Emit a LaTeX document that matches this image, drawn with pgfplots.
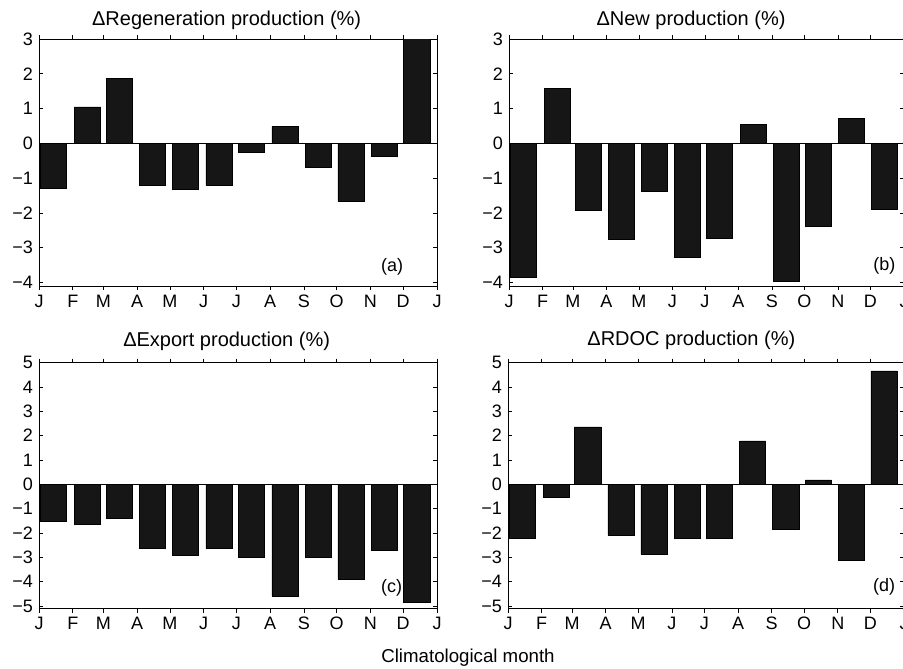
\documentclass[border=0pt]{standalone}
\usepackage{pgfplots}
\pgfplotsset{compat=1.18}
\usepackage{fontspec}
\setmainfont{Liberation Sans}
\definecolor{barfill}{RGB}{22,22,22}
\pgfplotstableread{
x a b c d
13.0 -1.28 -3.85 -1.51 -2.23
44.5 1.05 1.57 -1.63 -0.52
73.5 1.87 -1.93 -1.40 2.36
104.0 -1.20 -2.75 -2.64 -2.10
134.5 -1.31 -1.39 -2.93 -2.88
165.0 -1.20 -3.26 -2.64 -2.23
194.5 -0.25 -2.72 -3.00 -2.23
225.5 0.48 0.54 -4.60 1.78
256.0 -0.70 -3.96 -3.00 -1.83
286.0 -1.65 -2.39 -3.89 0.18
316.5 -0.36 0.71 -2.70 -3.11
346.5 3.60 -1.89 -4.84 4.66
}\datatable
\pgfplotsset{
  panel/.style={
    scale only axis,
    anchor=south west,
    xmin=0, xmax=365,
    xtick={0,31,59,90,120,151,181,212,243,273,304,334,365},
    xticklabels={J,F,M,A,M,J,J,A,S,O,N,D,J},
    tick align=inside,
    major tick length=3pt,
    tick style={black, line width=0.5pt},
    axis line style={black, line width=0.6pt},
    ticklabel style={font=\fontsize{13.5}{15}\selectfont},
    xticklabel style={yshift=0pt},
    yticklabel style={xshift=-1pt},
    clip=true,
    ybar, bar width=24,
    cycle list={{fill=barfill, draw=black!80, line width=0.4pt}},
  },
  small/.style={ymin=-4.1, ymax=3, ytick={-4,-3,-2,-1,0,1,2,3},
    yticklabels={−4,−3,−2,−1,0,1,2,3}},
  big/.style={ymin=-5.1, ymax=5, ytick={-5,-4,-3,-2,-1,0,1,2,3,4,5},
    yticklabels={−5,−4,−3,−2,−1,0,1,2,3,4,5}},
}
\begin{document}
\begin{tikzpicture}
\useasboundingbox (0,0) rectangle (677.25pt,-501pt);
\begin{axis}[panel, small, at={(29.25pt,-214.5pt)}, width=298.5pt, height=185.25pt]
\addplot table[x=x,y=a]{\datatable};
\draw[black, line width=0.8pt] (axis cs:0,0) -- (axis cs:365,0);
\node[font=\fontsize{13.5}{15}\selectfont] at (rel axis cs:0.887,0.077) {(a)};
\end{axis}
\begin{axis}[panel, small, at={(381.75pt,-214.5pt)}, width=296.25pt, height=185.25pt]
\addplot table[x=x,y=b]{\datatable};
\draw[black, line width=0.8pt] (axis cs:0,0) -- (axis cs:365,0);
\node[font=\fontsize{13.5}{15}\selectfont] at (rel axis cs:0.95,0.082) {(b)};
\end{axis}
\begin{axis}[panel, big, at={(29.25pt,-456.4pt)}, width=298.5pt, height=184.5pt]
\addplot table[x=x,y=c]{\datatable};
\draw[black, line width=0.8pt] (axis cs:0,0) -- (axis cs:365,0);
\node[font=\fontsize{13.5}{15}\selectfont] at (rel axis cs:0.886,0.086) {(c)};
\end{axis}
\begin{axis}[panel, big, at={(381pt,-456.4pt)}, width=297pt, height=184.5pt]
\addplot table[x=x,y=d]{\datatable};
\draw[black, line width=0.8pt] (axis cs:0,0) -- (axis cs:365,0);
\node[font=\fontsize{13.5}{15}\selectfont] at (rel axis cs:0.95,0.089) {(d)};
\end{axis}
\node[font=\fontsize{15}{17}\selectfont] at (170pt,-15.5pt) {ΔRegeneration production (\%)};
\node[font=\fontsize{15}{17}\selectfont] at (518.25pt,-15pt) {ΔNew production (\%)};
\node[font=\fontsize{15}{17}\selectfont] at (170pt,-256.3pt) {ΔExport production (\%)};
\node[font=\fontsize{15}{17}\selectfont] at (518.5pt,-255pt) {ΔRDOC production (\%)};
\node[font=\fontsize{14}{16}\selectfont] at (351pt,-493.5pt) {Climatological month};
\end{tikzpicture}
\end{document}
